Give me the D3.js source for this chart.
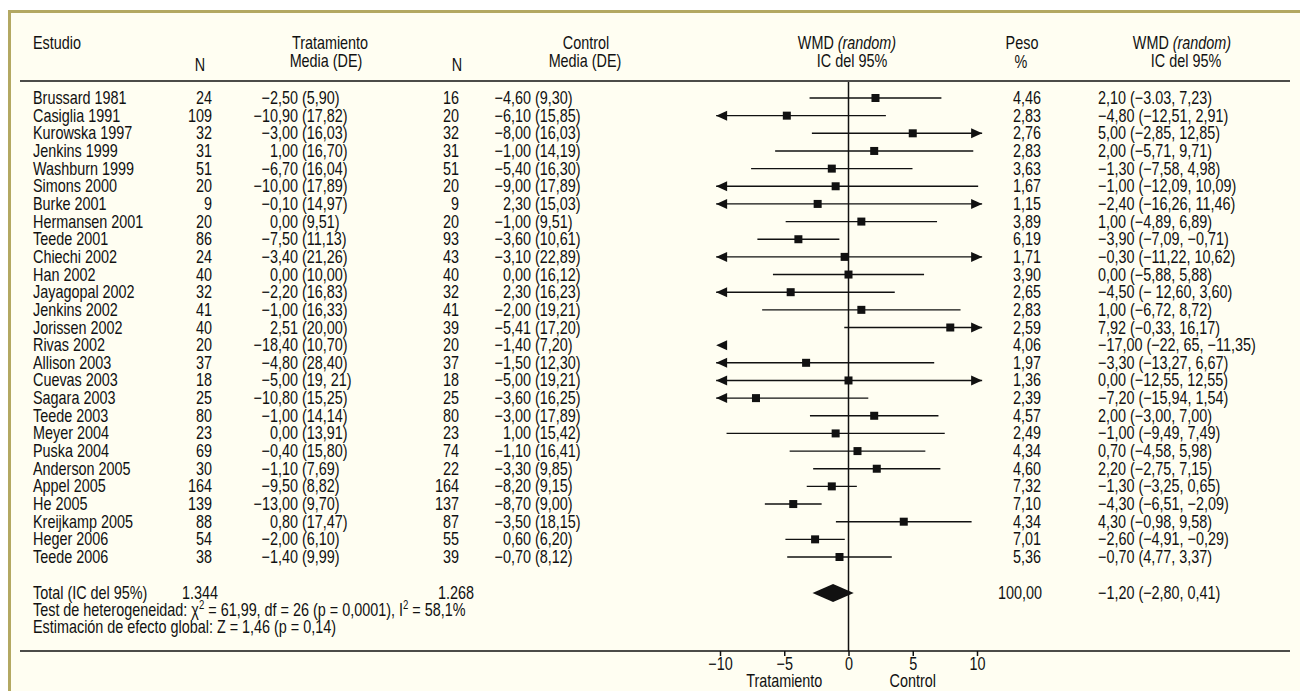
<!DOCTYPE html>
<html>
<head>
<meta charset="utf-8">
<script src="https://cdn.jsdelivr.net/npm/d3@7"></script>
<style>
  body { margin: 0; background: #fff; }
  svg text { font-family: "Liberation Sans", Arial, sans-serif; font-size: 18px; fill: #111; }
</style>
</head>
<body>
<div id="chart"></div>
<script>
// study rows, top to bottom
const studies = ["Brussard 1981", "Casiglia 1991", "Kurowska 1997", "Jenkins 1999", "Washburn 1999", "Simons 2000",
  "Burke 2001", "Hermansen 2001", "Teede 2001", "Chiechi 2002", "Han 2002", "Jayagopal 2002", "Jenkins 2002",
  "Jorissen 2002", "Rivas 2002", "Allison 2003", "Cuevas 2003", "Sagara 2003", "Teede 2003", "Meyer 2004",
  "Puska 2004", "Anderson 2005", "Appel 2005", "He 2005", "Kreijkamp 2005", "Heger 2006", "Teede 2006"];
const nTreat = ["24", "109", "32", "31", "51", "20", "9", "20", "86", "24", "40", "32", "41", "40", "20", "37", "18",
  "25", "80", "23", "69", "30", "164", "139", "88", "54", "38"];
const meanTreat = ["−2,50", "−10,90", "−3,00", "1,00", "−6,70", "−10,00", "−0,10", "0,00", "−7,50", "−3,40", "0,00",
  "−2,20", "−1,00", "2,51", "−18,40", "−4,80", "−5,00", "−10,80", "−1,00", "0,00", "−0,40", "−1,10", "−9,50",
  "−13,00", "0,80", "−2,00", "−1,40"];
const sdTreat = ["(5,90)", "(17,82)", "(16,03)", "(16,70)", "(16,04)", "(17,89)", "(14,97)", "(9,51)", "(11,13)",
  "(21,26)", "(10,00)", "(16,83)", "(16,33)", "(20,00)", "(10,70)", "(28,40)", "(19, 21)", "(15,25)", "(14,14)",
  "(13,91)", "(15,80)", "(7,69)", "(8,82)", "(9,70)", "(17,47)", "(6,10)", "(9,99)"];
const nCtrl = ["16", "20", "32", "31", "51", "20", "9", "20", "93", "43", "40", "32", "41", "39", "20", "37", "18",
  "25", "80", "23", "74", "22", "164", "137", "87", "55", "39"];
const meanCtrl = ["−4,60", "−6,10", "−8,00", "−1,00", "−5,40", "−9,00", "2,30", "−1,00", "−3,60", "−3,10", "0,00",
  "2,30", "−2,00", "−5,41", "−1,40", "−1,50", "−5,00", "−3,60", "−3,00", "1,00", "−1,10", "−3,30", "−8,20",
  "−8,70", "−3,50", "0,60", "−0,70"];
const sdCtrl = ["(9,30)", "(15,85)", "(16,03)", "(14,19)", "(16,30)", "(17,89)", "(15,03)", "(9,51)", "(10,61)",
  "(22,89)", "(16,12)", "(16,23)", "(19,21)", "(17,20)", "(7,20)", "(12,30)", "(19,21)", "(16,25)", "(17,89)",
  "(15,42)", "(16,41)", "(9,85)", "(9,15)", "(9,00)", "(18,15)", "(6,20)", "(8,12)"];
const weights = ["4,46", "2,83", "2,76", "2,83", "3,63", "1,67", "1,15", "3,89", "6,19", "1,71", "3,90", "2,65", "2,83",
  "2,59", "4,06", "1,97", "1,36", "2,39", "4,57", "2,49", "4,34", "4,60", "7,32", "7,10", "4,34", "7,01", "5,36"];
const ciText = ["2,10 (−3.03, 7,23)", "−4,80 (−12,51, 2,91)", "5,00 (−2,85, 12,85)", "2,00 (−5,71, 9,71)",
  "−1,30 (−7,58, 4,98)", "−1,00 (−12,09, 10,09)", "−2,40 (−16,26, 11,46)", "1,00 (−4,89, 6,89)",
  "−3,90 (−7,09, −0,71)", "−0,30 (−11,22, 10,62)", "0,00 (−5,88, 5,88)", "−4,50 (− 12,60, 3,60)",
  "1,00 (−6,72, 8,72)", "7,92 (−0,33, 16,17)", "−17,00 (−22, 65, −11,35)", "−3,30 (−13,27, 6,67)",
  "0,00 (−12,55, 12,55)", "−7,20 (−15,94, 1,54)", "2,00 (−3,00, 7,00)", "−1,00 (−9,49, 7,49)",
  "0,70 (−4,58, 5,98)", "2,20 (−2,75, 7,15)", "−1,30 (−3,25, 0,65)", "−4,30 (−6,51, −2,09)",
  "4,30 (−0,98, 9,58)", "−2,60 (−4,91, −0,29)", "−0,70 (4,77, 3,37)"];
// plotted effects
const est = [2.10, -4.80, 5.00, 2.00, -1.30, -1.00, -2.40, 1.00, -3.90, -0.30, 0.00, -4.50, 1.00, 7.92, -17.00,
  -3.30, 0.00, -7.20, 2.00, -1.00, 0.70, 2.20, -1.30, -4.30, 4.30, -2.60, -0.70];
const lo = [-3.03, -12.51, -2.85, -5.71, -7.58, -12.09, -16.26, -4.89, -7.09, -11.22, -5.88, -12.60, -6.72, -0.33,
  -22.65, -13.27, -12.55, -15.94, -3.00, -9.49, -4.58, -2.75, -3.25, -6.51, -0.98, -4.91, -4.77];
const hi = [7.23, 2.91, 12.85, 9.71, 4.98, 10.09, 11.46, 6.89, -0.71, 10.62, 5.88, 3.60, 8.72, 16.17, -11.35, 6.67,
  12.55, 1.54, 7.00, 7.49, 5.98, 7.15, 0.65, -2.09, 9.58, -0.29, 3.37];
// pooled
const pooled = { est: -1.20, lo: -2.80, hi: 0.41 };
const xTicks = [-10, -5, 0, 5, 10];

const W = 1300, H = 691;
const SX = 0.8; // condensed look
const svg = d3.select("#chart").append("svg").attr("width", W).attr("height", H);

// frame
svg.append("rect").attr("x", 9.5).attr("y", 11.5).attr("width", W).attr("height", H)
  .attr("fill", "#fffef2").attr("stroke", "#b3a862").attr("stroke-width", 3);

const x = d3.scaleLinear().domain([-10, 10]).range([720, 977]);
const y = d3.scalePoint().domain(studies).range([98, 557]);
const limL = -10.3, limR = 10.4;

// text helper, squeezed horizontally
function txt(parent, tx, ty, anchor, str) {
  return parent.append("text")
    .attr("transform", `translate(${tx},${ty}) scale(${SX},1)`)
    .attr("text-anchor", anchor).text(str);
}

// header
const head = svg.append("g");
function ht(tx, ty, anchor, str, italicPart) {
  const t = txt(head, tx, ty, anchor, str);
  if (italicPart) t.append("tspan").attr("font-style", "italic").text(italicPart);
}
ht(33, 49, "start", "Estudio");
ht(200, 71, "middle", "N");
ht(330, 49, "middle", "Tratamiento");
ht(326, 67, "middle", "Media (DE)");
ht(457, 71, "middle", "N");
ht(586, 49, "middle", "Control");
ht(585, 67, "middle", "Media (DE)");
ht(847, 49, "middle", "WMD ", "(random)");
ht(852, 67, "middle", "IC del 95%");
ht(1022, 49, "middle", "Peso");
ht(1021, 68, "middle", "%");
ht(1182, 49, "middle", "WMD ", "(random)");
ht(1186, 67, "middle", "IC del 95%");

svg.append("line").attr("x1", 20).attr("x2", 1290).attr("y1", 81).attr("y2", 81)
  .attr("stroke", "#111").attr("stroke-width", 1.5);
svg.append("line").attr("x1", 20).attr("x2", 1290).attr("y1", 651).attr("y2", 651)
  .attr("stroke", "#111").attr("stroke-width", 1.5);

// zero line
svg.append("line").attr("x1", x(0)).attr("x2", x(0)).attr("y1", 82).attr("y2", 651)
  .attr("stroke", "#111").attr("stroke-width", 1.5);

// table text
const cols = [
  { x: 33, a: "start", v: i => studies[i] },
  { x: 212, a: "end", v: i => nTreat[i] },
  { x: 298, a: "end", v: i => meanTreat[i] },
  { x: 302, a: "start", v: i => sdTreat[i] },
  { x: 459, a: "end", v: i => nCtrl[i] },
  { x: 531, a: "end", v: i => meanCtrl[i] },
  { x: 535, a: "start", v: i => sdCtrl[i] },
  { x: 1041, a: "end", v: i => weights[i] },
  { x: 1098, a: "start", v: i => ciText[i] }
];
const table = svg.append("g");
studies.forEach((s, i) => {
  cols.forEach(c => txt(table, c.x, y(s) + 6, c.a, c.v(i)));
});

// CI lines and arrows
const plot = svg.append("g").attr("stroke", "#111").attr("fill", "#111");
studies.forEach((s, i) => {
  const yy = y(s);
  const a = Math.max(lo[i], limL), b = Math.min(hi[i], limR);
  if (b > a) {
    plot.append("line").attr("x1", x(a)).attr("x2", x(b)).attr("y1", yy).attr("y2", yy).attr("stroke-width", 1.4);
  }
  if (lo[i] < limL) {
    const tip = x(limL);
    plot.append("path").attr("stroke", "none")
      .attr("d", `M${tip},${yy} L${tip + 11},${yy - 5} L${tip + 11},${yy + 5} Z`);
  }
  if (hi[i] > limR) {
    const tip = x(limR);
    plot.append("path").attr("stroke", "none")
      .attr("d", `M${tip},${yy} L${tip - 11},${yy - 5} L${tip - 11},${yy + 5} Z`);
  }
  if (est[i] >= limL && est[i] <= limR) {
    plot.append("rect").attr("stroke", "none").attr("x", x(est[i]) - 4).attr("y", yy - 4)
      .attr("width", 8).attr("height", 8);
  }
});

// pooled diamond
const yTot = 593;
plot.append("path").attr("stroke", "none")
  .attr("d", `M${x(pooled.lo)},${yTot} L${x(pooled.est)},${yTot - 9} L${x(pooled.hi)},${yTot} L${x(pooled.est)},${yTot + 9} Z`);

// total + footer text
const foot = svg.append("g");
txt(foot, 33, yTot + 6, "start", "Total (IC del 95%)");
txt(foot, 218, yTot + 6, "end", "1.344");
txt(foot, 474, yTot + 6, "end", "1.268");
txt(foot, 1042, yTot + 6, "end", "100,00");
txt(foot, 1098, yTot + 6, "start", "−1,20 (−2,80, 0,41)");

const het = txt(foot, 33, 616, "start", null);
het.append("tspan").text("Test de heterogeneidad: χ");
het.append("tspan").attr("dy", -7).attr("font-size", 12).text("2");
het.append("tspan").attr("dy", 7).text(" = 61,99, df = 26 (p = 0,0001), I");
het.append("tspan").attr("dy", -7).attr("font-size", 12).text("2");
het.append("tspan").attr("dy", 7).text(" = 58,1%");
txt(foot, 33, 633, "start", "Estimación de efecto global: Z = 1,46 (p = 0,14)");

// x axis
const axis = svg.append("g").attr("transform", "translate(0,651)")
  .call(d3.axisBottom(x).tickValues(xTicks).tickSize(5).tickFormat(d => d < 0 ? "−" + Math.abs(d) : d));
axis.select(".domain").remove();
axis.selectAll("line").attr("stroke", "#111").attr("stroke-width", 1.5);
axis.selectAll("text").attr("font-size", 18).attr("y", 0).attr("dy", null)
  .attr("transform", `translate(0,19) scale(${SX},1)`);

txt(svg, x(-5), 687, "middle", "Tratamiento");
txt(svg, x(5), 687, "middle", "Control");
</script>
</body>
</html>
